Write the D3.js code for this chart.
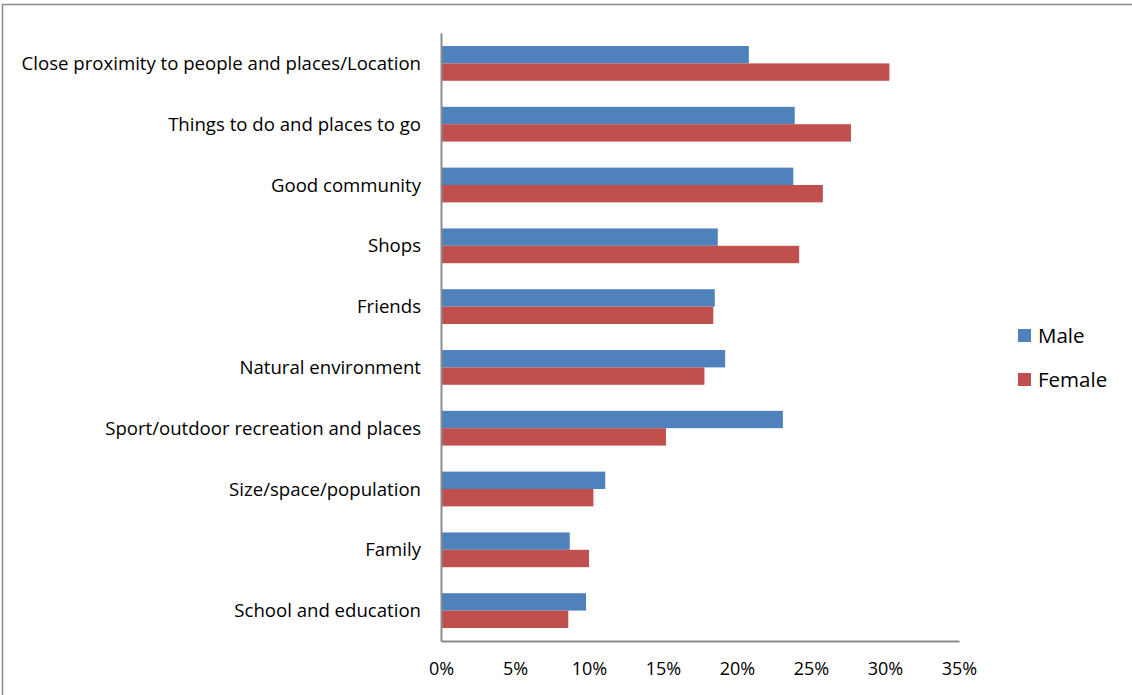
<!DOCTYPE html>
<html>
<head>
<meta charset="utf-8">
<script src="https://cdn.jsdelivr.net/npm/d3@7"></script>
<style>
  html, body { margin: 0; padding: 0; background: #fff; }
  svg { display: block; font-family: "Open Sans", "Liberation Sans", sans-serif; }
</style>
</head>
<body>
<svg id="chart" width="1132" height="695"></svg>
<script>
// Reasons for liking the area, by gender (share of respondents)
const categories = [
  "Close proximity to people and places/Location",
  "Things to do and places to go",
  "Good community",
  "Shops",
  "Friends",
  "Natural environment",
  "Sport/outdoor recreation and places",
  "Size/space/population",
  "Family",
  "School and education"
];
const maleValues   = [20.8, 23.9, 23.8, 18.7, 18.5, 19.2, 23.1, 11.1, 8.7, 9.8];
const femaleValues = [30.3, 27.7, 25.8, 24.2, 18.4, 17.8, 15.2, 10.3, 10.0, 8.6];
const seriesNames  = ["Male", "Female"];
const seriesColors = ["#4F81BD", "#C0504D"];
const tickValues   = [0, 5, 10, 15, 20, 25, 30, 35];

const rows = categories.map((c, i) => ({ category: c, values: [maleValues[i], femaleValues[i]] }));

const svg = d3.select("#chart");

// outer chart frame
svg.append("rect")
  .attr("x", 2.5).attr("y", 4.5)
  .attr("width", 1140).attr("height", 700)
  .attr("fill", "none").attr("stroke", "#8c8c8c").attr("stroke-width", 1.5);

const plot = { left: 441, right: 959, top: 33, bottom: 641 };

const x = d3.scaleLinear().domain([0, 35]).range([plot.left, plot.right]);
const y = d3.scaleBand()
  .domain(categories)
  .range([plot.top, plot.bottom])
  .paddingInner(0.4286)
  .paddingOuter(0.2143);
const ySeries = d3.scaleBand().domain([0, 1]).range([0, y.bandwidth()]);

// bars
const groups = svg.append("g").selectAll("g")
  .data(rows).join("g")
  .attr("transform", d => `translate(0,${y(d.category)})`);

groups.selectAll("rect")
  .data(d => d.values.map((v, s) => ({ v, s })))
  .join("rect")
  .attr("x", x(0))
  .attr("y", d => ySeries(d.s))
  .attr("width", d => x(d.v) - x(0))
  .attr("height", ySeries.bandwidth())
  .attr("fill", d => seriesColors[d.s]);

// category labels
svg.append("g").selectAll("text")
  .data(categories).join("text")
  .attr("x", plot.left - 20)
  .attr("y", d => y(d) + y.bandwidth() / 2)
  .attr("dy", "0.35em")
  .attr("text-anchor", "end")
  .attr("font-size", 18.6)
  .attr("fill", "#000")
  .text(d => d);

// x axis
const xAxis = d3.axisBottom(x)
  .tickValues(tickValues)
  .tickFormat(d => d + "%")
  .tickSize(0)
  .tickPadding(21);
const gx = svg.append("g")
  .attr("transform", `translate(0,${plot.bottom})`)
  .call(xAxis);
gx.select(".domain").attr("stroke", "#8c8c8c").attr("stroke-width", 2);
gx.selectAll("text")
  .attr("font-size", 18)
  .attr("font-family", "\"Open Sans\", \"Liberation Sans\", sans-serif")
  .attr("fill", "#000");

// y axis line
const yAxis = d3.axisLeft(y).tickSize(0).tickFormat("");
const gy = svg.append("g")
  .attr("transform", `translate(${plot.left},0)`)
  .call(yAxis);
gy.select(".domain").attr("stroke", "#8c8c8c").attr("stroke-width", 2);

// legend
const legend = svg.append("g").selectAll("g")
  .data(seriesNames).join("g")
  .attr("transform", (d, i) => `translate(1018,${329 + i * 44})`);
legend.append("rect")
  .attr("width", 13).attr("height", 13)
  .attr("fill", (d, i) => seriesColors[i]);
legend.append("text")
  .attr("x", 20).attr("y", 6.5).attr("dy", "0.35em")
  .attr("font-size", 20.5)
  .attr("fill", "#000")
  .text(d => d);
</script>
</body>
</html>
